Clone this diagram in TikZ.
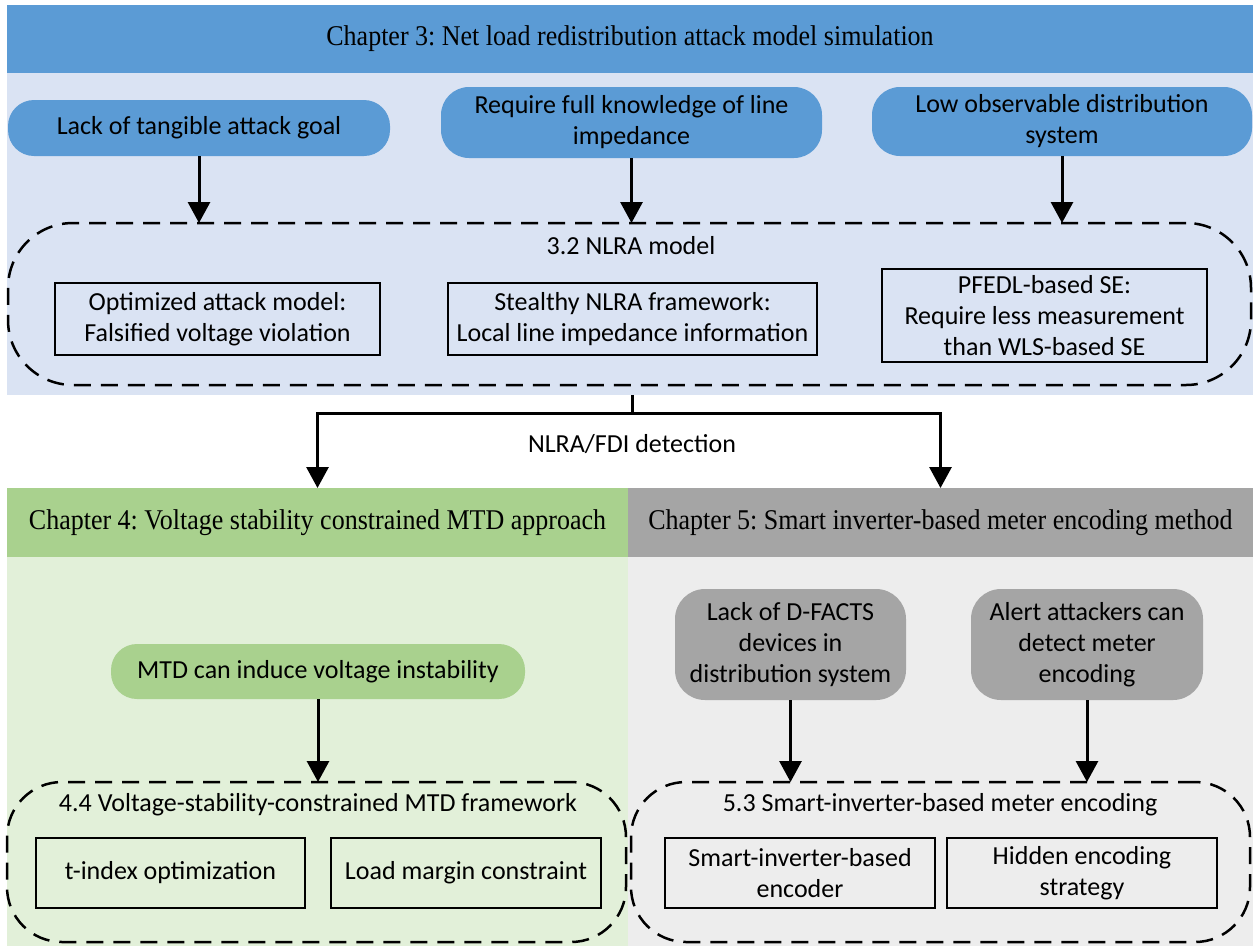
\documentclass[tikz,border=0pt]{standalone}
\usepackage{graphicx}
\usepackage{fontspec}
\setmainfont{Liberation Serif}
\newfontfamily\labelfont{Carlito}
\usetikzlibrary{arrows.meta}
\frenchspacing
\definecolor{chblue}{HTML}{5B9BD5}
\definecolor{bgblue}{HTML}{DAE3F3}
\definecolor{chgreen}{HTML}{A9D18E}
\definecolor{bggreen}{HTML}{E2F0D9}
\definecolor{chgray}{HTML}{A5A5A5}
\definecolor{bggray}{HTML}{EDEDED}
% chapter titles are set slightly tall
\newcommand{\chaptitle}[1]{\scalebox{1}[1.1]{#1}}

\begin{document}
\begin{tikzpicture}[x=1pt,y=-1pt,
  region/.style={inner sep=0pt, outer sep=0pt},
  heading/.style={region, font=\fontsize{26}{31}\selectfont},
  pill/.style={inner sep=0pt, outer sep=0pt, rounded corners=#1, align=center,
    font=\labelfont\fontsize{26}{31}\selectfont},
  itembox/.style={draw, line width=2.5pt, inner sep=0pt, outer sep=0pt, align=center,
    font=\labelfont\fontsize{26}{31}\selectfont},
  group/.style={draw, line width=2.5pt, dash pattern=on 17pt off 10pt,
    rounded corners=#1, inner sep=0pt, outer sep=0pt},
  caption/.style={inner sep=0pt, outer sep=0pt, font=\labelfont\fontsize{26}{31}\selectfont},
  arr/.style={line width=3pt, -{Triangle[length=21pt,width=22pt]}},
  link/.style={line width=3pt}
]
\useasboundingbox (0,0) rectangle (1253,946);

% ---------- Chapter 3 ----------
\node[region, fill=bgblue, minimum width=1246pt, minimum height=322pt] (body3) at (630,234) {};
\node[heading, fill=chblue, minimum width=1246pt, minimum height=68pt] (ch3) at (630,39)
  {\chaptitle{Chapter 3: Net load redistribution attack model simulation}};

\node[pill=26pt, fill=chblue, minimum width=382pt, minimum height=56pt] (p1) at (199,128)
  {Lack of tangible attack goal};
\node[pill=28pt, fill=chblue, minimum width=381pt, minimum height=71pt] (p2) at (631.5,122.5)
  {Require full knowledge of line\\impedance};
\node[pill=28pt, fill=chblue, minimum width=380pt, minimum height=69pt] (p3) at (1062,121.5)
  {Low observable distribution\\system};

\node[group=65pt, minimum width=1243pt, minimum height=162pt] (g3) at (629.5,304) {};
\node[caption] (t3) at (631,246) {3.2 NLRA model};
\node[itembox, minimum width=325pt, minimum height=72pt] (a1) at (217.5,319)
  {Optimized attack model:\\Falsified voltage violation};
\node[itembox, minimum width=369pt, minimum height=72pt] (a2) at (632.5,319)
  {Stealthy NLRA framework:\\Local line impedance information};
\node[itembox, minimum width=325pt, minimum height=93pt] (a3) at (1044.5,315.5)
  {PFEDL-based SE:\\Require less measurement\\than WLS-based SE};

\draw[arr] (p1.south) -- (p1.south |- g3.north);
\draw[arr] (p2.south) -- (p2.south |- g3.north);
\draw[arr] (p3.south) -- (p3.south |- g3.north);

% ---------- Chapter 4 ----------
\node[region, fill=bggreen, minimum width=621pt, minimum height=389pt] (body4) at (317.5,751.5) {};
\node[heading, fill=chgreen, minimum width=621pt, minimum height=69pt] (ch4) at (317.5,522.5)
  {\chaptitle{Chapter 4: Voltage stability constrained MTD approach}};

\node[pill=26pt, fill=chgreen, minimum width=414pt, minimum height=55pt] (m1) at (318,671.5)
  {MTD can induce voltage instability};
\node[group=55pt, minimum width=619pt, minimum height=160pt] (g4) at (316.5,862) {};
\node[caption] (t4) at (318,805) {4.4 Voltage-stability-constrained MTD framework};
\node[itembox, minimum width=269pt, minimum height=70pt] (b1) at (170.5,873) {t-index optimization};
\node[itembox, minimum width=270pt, minimum height=70pt] (b2) at (466,873) {Load margin constraint};

\draw[arr] (m1.south) -- (m1.south |- g4.north);

% ---------- Chapter 5 ----------
\node[region, fill=bggray, minimum width=625pt, minimum height=389pt] (body5) at (940.5,751.5) {};
\node[heading, fill=chgray, minimum width=625pt, minimum height=69pt] (ch5) at (940.5,522.5)
  {\chaptitle{Chapter 5: Smart inverter-based meter encoding method}};

\node[pill=30pt, fill=chgray, minimum width=231pt, minimum height=111pt] (q1) at (790.5,644.5)
  {Lack of D-FACTS\\devices in\\distribution system};
\node[pill=30pt, fill=chgray, minimum width=232pt, minimum height=111pt] (q2) at (1087,644.5)
  {Alert attackers can\\detect meter\\encoding};
\node[group=55pt, minimum width=619pt, minimum height=160pt] (g5) at (940.5,862) {};
\node[caption] (t5) at (940,805) {5.3 Smart-inverter-based meter encoding};
\node[itembox, minimum width=270pt, minimum height=70pt] (b3) at (800,873)
  {Smart-inverter-based\\encoder};
\node[itembox, minimum width=270pt, minimum height=70pt] (b4) at (1082,873)
  {Hidden encoding\\strategy};

\draw[arr] (q1.south) -- (q1.south |- g5.north);
\draw[arr] (q2.south) -- (q2.south |- g5.north);

% ---------- detection split ----------
\coordinate (split) at (632,413);
\draw[link] (split |- body3.south) -- (split);
\draw[arr] (split) -| (ch4.north);
\draw[arr] (split) -| (ch5.north);
\node[caption] (det) at (632,444) {NLRA/FDI detection};
\end{tikzpicture}
\end{document}
